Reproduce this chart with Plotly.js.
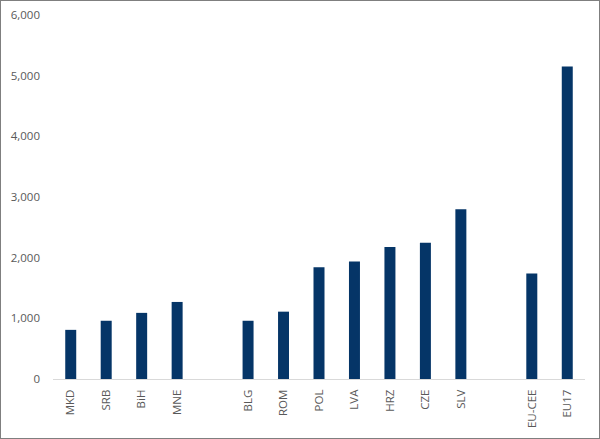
<!DOCTYPE html>
<html><head><meta charset="utf-8">
<script src="https://cdn.plot.ly/plotly-3.0.1.min.js"></script>
<style>
html,body{margin:0;padding:0;background:#fff;}
#chart{width:600px;height:439px;box-sizing:border-box;border:1px solid #7f7f7f;}
</style></head>
<body><div id="chart"></div>
<script>
const categories = ['MKD','SRB','BiH','MNE',' ','BLG','ROM','POL','LVA','HRZ','CZE','SLV','  ','EU-CEE','EU17'];
const values = [810, 960, 1090, 1270, null, 960, 1110, 1840, 1935, 2175, 2245, 2800, null, 1740, 5150];
const yTicks = [0,1000,2000,3000,4000,5000,6000];

const trace = {
  type:'bar', x:categories, y:values,
  marker:{color:'#053567'},
  hoverinfo:'x+y'
};
const layout = {
  width:598, height:437,
  margin:{l:52, r:14, t:14, b:59, pad:0},
  paper_bgcolor:'#fff', plot_bgcolor:'#fff',
  showlegend:false,
  bargap:0.69,
  font:{family:'"Open Sans", sans-serif', size:11.5, color:'#595959'},
  xaxis:{type:'category', tickangle:-90, showline:true, linecolor:'#d9d9d9', linewidth:1,
         ticks:'', showgrid:false, zeroline:false, ticklabelstandoff:5,
         tickfont:{size:11.5, color:'#595959'}},
  yaxis:{range:[0,6000], tickvals:yTicks, tickformat:',d', showgrid:false, zeroline:false,
         showline:false, ticks:'', ticklabelstandoff:12, tickfont:{size:11.5, color:'#595959'}}
};
Plotly.newPlot('chart',[trace],layout,{displayModeBar:false, staticPlot:true});
</script></body></html>
